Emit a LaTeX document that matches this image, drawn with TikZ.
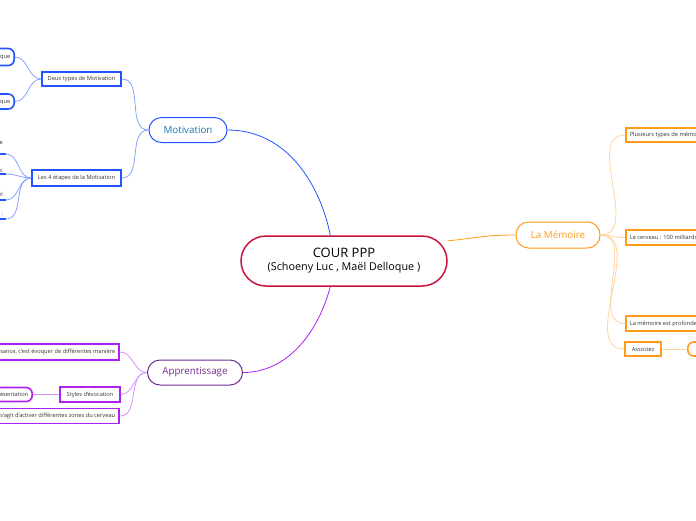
\documentclass[tikz,border=0pt]{standalone}
\usepackage{fontspec}
\setmainfont{Open Sans}
\usepackage{xcolor}
\definecolor{rouge}{HTML}{C8143C}
\definecolor{bleu}{HTML}{2255FF}
\definecolor{bleuclair}{HTML}{86A2FF}
\definecolor{bleutexte}{HTML}{1878B8}
\definecolor{orange}{HTML}{FF9A1A}
\definecolor{orangeclair}{HTML}{FFD39A}
\definecolor{violet}{HTML}{6E2C92}
\definecolor{violetvif}{HTML}{B020F0}
\definecolor{violetclair}{HTML}{D890FF}

\begin{document}
\begin{tikzpicture}[x=1pt,y=-1pt,
  petit/.style={font=\fontsize{5.7}{7.5}\selectfont, text=black!80, inner xsep=4, inner ysep=0},
  feuille/.style={petit, draw, line width=1.6, minimum height=15},
  bout/.style={feuille, rounded corners=6},
  branche/.style={draw, line width=1, rounded corners=12.5, minimum height=25, font=\fontsize{9.8}{11}\selectfont},
  fil/.style={line width=0.8}]
  \useasboundingbox (0,0) rectangle (696,520); \clip (0,0) rectangle (696,520);
  \node[draw=rouge, line width=1.5, rounded corners=25, minimum width=206, minimum height=50, align=center] (cour) at (344,261) {{\fontsize{13}{15}\selectfont COUR PPP}\\[1pt]{\fontsize{10.8}{13}\selectfont (Schoeny Luc , Maël Delloque )}};
  \node[branche, draw=bleu, text=bleutexte, minimum width=78] (motiv) at (188,130) {Motivation};
  \node[branche, draw=orange, text=orange, minimum width=84, minimum height=26] (memo) at (558,235) {La Mémoire};
  \node[branche, draw=violet, text=violet, minimum width=95] (appr) at (195,372.5) {Apprentissage};
  \draw[fil, bleu] (motiv.east) .. controls +(60,0) and +(-10,-50) .. (cour.118);
  \draw[fil, orange] (cour.11) .. controls +(30,-3) and +(-30,0) .. (memo.west);
  \draw[fil, violetvif] (appr.east) .. controls +(45,0) and +(-12,45) .. (cour.-118);
  \node[feuille, draw=bleu, minimum width=79, minimum height=14] (deux) at (81.5,79) {Deux types de Motivation};
  \node[feuille, draw=bleu, minimum width=89, minimum height=16] (etapes) at (76.5,178) {Les 4 étapes de la Motivation};
  \node[bout, draw=bleu, anchor=east, minimum height=17] (intr) at (15,57) {Motivation intrinsèque};
  \node[bout, draw=bleu, anchor=east] (extr) at (15,101.5) {Motivation extrinsèque};
  \node[petit, anchor=south east, align=left, inner ysep=1.5, inner xsep=3] (e1) at (6,154) {Le besoin : ressentir un manque\\à combler};
  \node[petit, anchor=south east, inner ysep=1.5, inner xsep=3] (e2) at (6,174) {Le déclic};
  \node[petit, anchor=south east, inner ysep=1.5, inner xsep=3] (e3) at (6,200) {L'engagement personnel};
  \node[petit, anchor=south east, inner ysep=1.5, inner xsep=3] (e4) at (6,219) {La réussite de l'objectif :};
  \foreach \e in {e1,e2,e3,e4} {\draw[bleu, line width=1.5] (\e.south west) -- (\e.south east); \draw[fil, bleuclair] (etapes.west) to[out=180,in=0] (\e.south east);}
  \draw[fil, bleuclair] (motiv.west) to[out=180,in=0] (deux.east); \draw[fil, bleuclair] (motiv.west) to[out=180,in=0] (etapes.east);
  \draw[fil, bleuclair] (deux.west) to[out=180,in=0] (intr.east); \draw[fil, bleuclair] (deux.west) to[out=180,in=0] (extr.east);
  \node[feuille, draw=violetvif, anchor=east, minimum height=16] (evoq) at (120,352) {Apprendre une connaissance, c'est évoquer de différentes manière};
  \node[feuille, draw=violetvif, minimum width=60] (styles) at (90,394.5) {Styles d'évocation};
  \node[bout, draw=violetvif, anchor=east, minimum height=14] (repr) at (33,394.5) {Représentation};
  \node[feuille, draw=violetvif, anchor=east] (zones) at (120,416) {Il s'agit d'activer différentes zones du cerveau};
  \draw[fil, violetclair] (styles.west) -- (repr.east);
  \foreach \f in {evoq,styles,zones} \draw[fil, violetclair] (appr.west) to[out=180,in=0] (\f.east);
  \node[feuille, draw=orange, anchor=west, minimum height=14] (types) at (625,135) {Plusieurs types de mémoire};
  \node[feuille, draw=orange, anchor=west] (cerv) at (625,237.5) {Le cerveau : 100 milliards de neurones};
  \node[feuille, draw=orange, anchor=west] (prof) at (625,323.5) {La mémoire est profonde};
  \node[feuille, draw=orange, minimum width=36, minimum height=14] (assoc) at (643,349) {Associez};
  \node[bout, draw=orange, anchor=west, minimum height=14, inner xsep=12] (assocb) at (687,349) {Images et émotions};
  \draw[fil, orangeclair] (assoc.east) -- (assocb.west);
  \foreach \f in {types,cerv,prof,assoc} \draw[fil, orangeclair] (memo.east) to[out=0,in=180] (\f.west);
\end{tikzpicture}
\end{document}
